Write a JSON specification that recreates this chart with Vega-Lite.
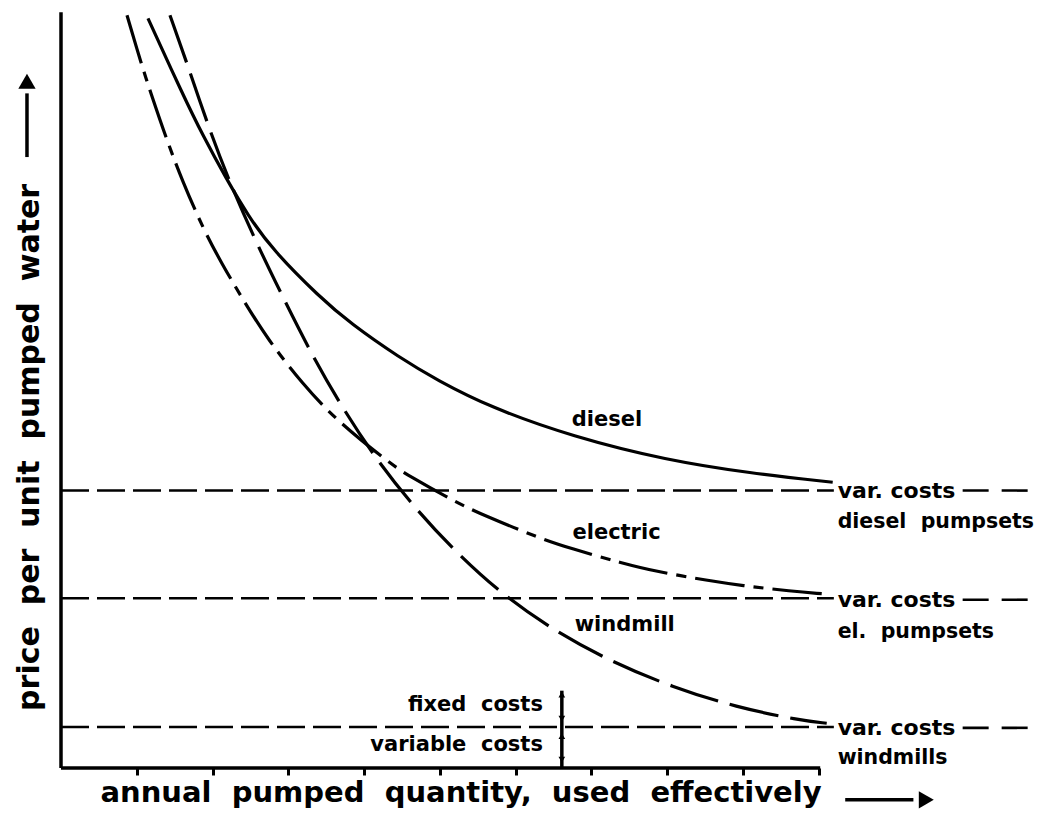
{
  "$schema": "https://vega.github.io/schema/vega-lite/v6.json",
  "width": 985,
  "height": 758,
  "autosize": {"type": "none"},
  "padding": {"left": 61, "top": 10, "right": 1, "bottom": 53},
  "background": "white",
  "config": {
    "view": {"stroke": null},
    "text": {"font": "DejaVu Sans", "fontWeight": "bold", "color": "black"}
  },
  "datasets": {
    "curves": [
      {"s": "diesel", "x": 1.148, "y": 98.9},
      {"s": "diesel", "x": 1.61, "y": 88.8},
      {"s": "diesel", "x": 1.874, "y": 83.4},
      {"s": "diesel", "x": 2.19, "y": 77.6},
      {"s": "diesel", "x": 2.467, "y": 72.9},
      {"s": "diesel", "x": 2.797, "y": 68.3},
      {"s": "diesel", "x": 3.417, "y": 62.1},
      {"s": "diesel", "x": 3.813, "y": 58.7},
      {"s": "diesel", "x": 4.472, "y": 54.1},
      {"s": "diesel", "x": 4.96, "y": 51.2},
      {"s": "diesel", "x": 5.66, "y": 47.6},
      {"s": "diesel", "x": 6.755, "y": 43.7},
      {"s": "diesel", "x": 7.995, "y": 40.6},
      {"s": "diesel", "x": 9.09, "y": 38.9},
      {"s": "diesel", "x": 10.185, "y": 37.7},
      {"s": "electric", "x": 0.871, "y": 99.3},
      {"s": "electric", "x": 1.069, "y": 92.6},
      {"s": "electric", "x": 1.174, "y": 89.4},
      {"s": "electric", "x": 1.398, "y": 82.8},
      {"s": "electric", "x": 1.596, "y": 77.6},
      {"s": "electric", "x": 1.873, "y": 71.2},
      {"s": "electric", "x": 2.124, "y": 66.5},
      {"s": "electric", "x": 2.401, "y": 61.8},
      {"s": "electric", "x": 2.731, "y": 56.5},
      {"s": "electric", "x": 3.193, "y": 50.6},
      {"s": "electric", "x": 3.641, "y": 45.8},
      {"s": "electric", "x": 4.34, "y": 40.2},
      {"s": "electric", "x": 4.578, "y": 38.6},
      {"s": "electric", "x": 5.224, "y": 35.0},
      {"s": "electric", "x": 5.567, "y": 33.4},
      {"s": "electric", "x": 6.319, "y": 30.3},
      {"s": "electric", "x": 6.715, "y": 29.0},
      {"s": "electric", "x": 7.414, "y": 27.0},
      {"s": "electric", "x": 7.863, "y": 25.9},
      {"s": "electric", "x": 8.562, "y": 24.7},
      {"s": "electric", "x": 8.958, "y": 24.1},
      {"s": "electric", "x": 9.657, "y": 23.3},
      {"s": "electric", "x": 10.04, "y": 23.0},
      {"s": "windmill", "x": 1.438, "y": 99.3},
      {"s": "windmill", "x": 1.662, "y": 93.0},
      {"s": "windmill", "x": 1.939, "y": 84.8},
      {"s": "windmill", "x": 2.203, "y": 77.8},
      {"s": "windmill", "x": 2.559, "y": 69.7},
      {"s": "windmill", "x": 2.929, "y": 62.1},
      {"s": "windmill", "x": 3.311, "y": 54.5},
      {"s": "windmill", "x": 3.72, "y": 47.4},
      {"s": "windmill", "x": 4.169, "y": 40.6},
      {"s": "windmill", "x": 4.67, "y": 34.3},
      {"s": "windmill", "x": 5.198, "y": 28.6},
      {"s": "windmill", "x": 5.831, "y": 22.8},
      {"s": "windmill", "x": 6.544, "y": 17.9},
      {"s": "windmill", "x": 7.269, "y": 14.0},
      {"s": "windmill", "x": 8.061, "y": 10.7},
      {"s": "windmill", "x": 8.918, "y": 8.0},
      {"s": "windmill", "x": 9.749, "y": 6.3},
      {"s": "windmill", "x": 10.106, "y": 5.9}
    ],
    "varlines": [
      {"x": 0, "x2": 10.2, "y": 36.6},
      {"x": 0, "x2": 10.2, "y": 22.4},
      {"x": 0, "x2": 10.2, "y": 5.4}
    ],
    "varcont": [
      {"x": 11.9, "x2": 12.88, "y": 36.6},
      {"x": 11.9, "x2": 12.8, "y": 22.2},
      {"x": 11.9, "x2": 12.85, "y": 5.3}
    ],
    "axislines": [
      {"x": 0, "x2": 10.02, "y": 0, "y2": 0},
      {"x": 0, "x2": 0, "y": 0, "y2": 99.7}
    ],
    "arrowlines": [
      {"x": 6.61, "x2": 6.61, "y": 0, "y2": 10.2},
      {"x": 10.35, "x2": 11.25, "y": -4.2, "y2": -4.2},
      {"x": -0.449, "x2": -0.449, "y": 80.6, "y2": 89.0}
    ],
    "smallheads": [
      {"x": 6.61, "y": 9.7, "dir": "up"},
      {"x": 6.61, "y": 6.5, "dir": "down"},
      {"x": 6.61, "y": 4.2, "dir": "up"},
      {"x": 6.61, "y": 1.1, "dir": "down"}
    ],
    "bigheads": [
      {"x": 11.42, "y": -4.2, "dir": "right"},
      {"x": -0.449, "y": 90.6, "dir": "up"}
    ],
    "labelsIn": [
      {"x": 6.74, "y": 45.9, "t": "diesel"},
      {"x": 6.75, "y": 31.0, "t": "electric"},
      {"x": 6.78, "y": 18.9, "t": "windmill"}
    ],
    "varLabels": [
      {"x": 10.25, "y": 36.5, "t": "var. costs"},
      {"x": 10.25, "y": 22.2, "t": "var. costs"},
      {"x": 10.25, "y": 5.3, "t": "var. costs"}
    ],
    "subLabels": [
      {"x": 10.25, "y": 32.4, "t": "diesel\u00a0\u00a0pumpsets"},
      {"x": 10.25, "y": 17.9, "t": "el.\u00a0\u00a0pumpsets"},
      {"x": 10.25, "y": 1.3, "t": "windmills"}
    ],
    "labelsRight": [
      {"x": 6.36, "y": 8.3, "t": "fixed\u00a0\u00a0costs"},
      {"x": 6.36, "y": 3.0, "t": "variable\u00a0\u00a0costs"}
    ],
    "xtitle": [{"x": 5.28, "y": -3.3, "t": "annual\u00a0\u00a0pumped\u00a0\u00a0quantity,\u00a0\u00a0used\u00a0\u00a0effectively"}],
    "ytitle": [{"x": -0.41, "y": 42.3, "t": "price\u00a0\u00a0per\u00a0\u00a0unit\u00a0\u00a0pumped\u00a0\u00a0water"}]
  },
  "encoding": {
    "x": {
      "field": "x", "type": "quantitative",
      "scale": {"domain": [0, 13], "nice": false, "zero": false},
      "axis": {"values": [1, 2, 3, 4, 5, 6, 7, 8, 9, 10], "labels": false, "domain": false, "grid": false, "ticks": true, "tickSize": 7, "tickWidth": 3, "tickColor": "black", "title": null}
    },
    "y": {
      "field": "y", "type": "quantitative",
      "scale": {"domain": [0, 100], "nice": false, "zero": false},
      "axis": null
    }
  },
  "layer": [
    {
      "data": {"name": "varlines"},
      "mark": {"type": "rule", "strokeDash": [28, 8], "strokeWidth": 2.6, "color": "black"},
      "encoding": {"x2": {"field": "x2"}}
    },
    {
      "data": {"name": "varcont"},
      "mark": {"type": "rule", "strokeDash": [26, 13], "strokeWidth": 2.6, "color": "black"},
      "encoding": {"x2": {"field": "x2"}}
    },
    {
      "data": {"name": "axislines"},
      "mark": {"type": "rule", "strokeWidth": 3.5, "color": "black"},
      "encoding": {"x2": {"field": "x2"}, "y2": {"field": "y2"}}
    },
    {
      "data": {"name": "curves"},
      "transform": [{"filter": "datum.s === 'diesel'"}],
      "mark": {"type": "line", "interpolate": "basis", "strokeWidth": 3.2, "color": "black"},
      "encoding": {"detail": {"field": "s"}}
    },
    {
      "data": {"name": "curves"},
      "transform": [{"filter": "datum.s === 'electric'"}],
      "mark": {"type": "line", "interpolate": "basis", "strokeWidth": 3.2, "color": "black", "strokeDash": [50, 9, 10, 9]},
      "encoding": {"detail": {"field": "s"}}
    },
    {
      "data": {"name": "curves"},
      "transform": [{"filter": "datum.s === 'windmill'"}],
      "mark": {"type": "line", "interpolate": "basis", "strokeWidth": 3.2, "color": "black", "strokeDash": [50, 12]},
      "encoding": {"detail": {"field": "s"}}
    },
    {
      "data": {"name": "arrowlines"},
      "mark": {"type": "rule", "strokeWidth": 3.5, "color": "black"},
      "encoding": {"x2": {"field": "x2"}, "y2": {"field": "y2"}}
    },
    {
      "data": {"name": "smallheads"},
      "mark": {"type": "point", "filled": true, "color": "black", "opacity": 1, "size": 45},
      "encoding": {
        "shape": {"field": "dir", "type": "nominal", "scale": {"domain": ["up", "down", "right"], "range": ["triangle-up", "triangle-down", "triangle-right"]}, "legend": null}
      }
    },
    {
      "data": {"name": "bigheads"},
      "mark": {"type": "point", "filled": true, "color": "black", "opacity": 1, "size": 300},
      "encoding": {
        "shape": {"field": "dir", "type": "nominal", "scale": {"domain": ["up", "down", "right"], "range": ["triangle-up", "triangle-down", "triangle-right"]}, "legend": null}
      }
    },
    {
      "data": {"name": "labelsIn"},
      "mark": {"type": "text", "align": "left", "baseline": "middle", "fontSize": 21},
      "encoding": {"text": {"field": "t"}}
    },
    {
      "data": {"name": "varLabels"},
      "mark": {"type": "text", "align": "left", "baseline": "middle", "fontSize": 22},
      "encoding": {"text": {"field": "t"}}
    },
    {
      "data": {"name": "subLabels"},
      "mark": {"type": "text", "align": "left", "baseline": "middle", "fontSize": 20.5},
      "encoding": {"text": {"field": "t"}}
    },
    {
      "data": {"name": "labelsRight"},
      "mark": {"type": "text", "align": "right", "baseline": "middle", "fontSize": 21},
      "encoding": {"text": {"field": "t"}}
    },
    {
      "data": {"name": "xtitle"},
      "mark": {"type": "text", "align": "center", "baseline": "middle", "fontSize": 29},
      "encoding": {"text": {"field": "t"}}
    },
    {
      "data": {"name": "ytitle"},
      "mark": {"type": "text", "align": "center", "baseline": "middle", "fontSize": 30, "angle": 270},
      "encoding": {"text": {"field": "t"}}
    }
  ]
}
